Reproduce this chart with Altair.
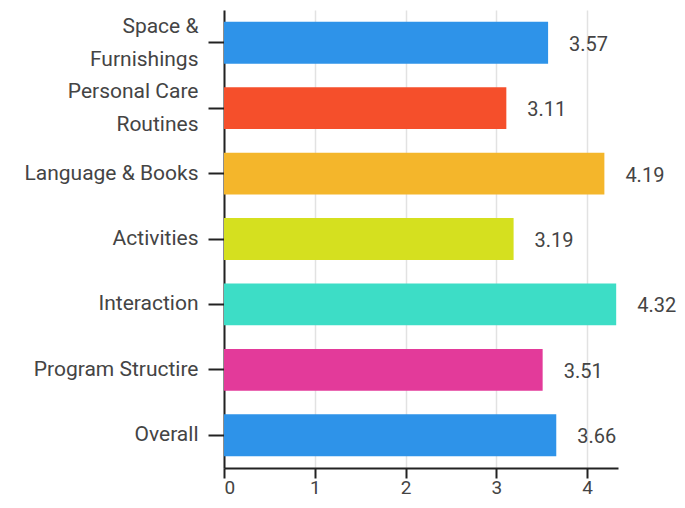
import altair as alt
import pandas as pd

categories = ["Space &|Furnishings", "Personal Care|Routines", "Language & Books",
              "Activities", "Interaction", "Program Structire", "Overall"]
scores = [3.57, 3.11, 4.19, 3.19, 4.32, 3.51, 3.66]
colors = ["#2E93E9", "#F54F2B", "#F4B62B", "#D5E01F", "#3DDDC6", "#E33A9A", "#2E93E9"]
x_ticks = [0, 1, 2, 3, 4]

df = pd.DataFrame({"category": categories, "score": scores, "color": colors,
                   "label": [f"{v:.2f}" for v in scores]})

FONT = "Roboto"
y_enc = alt.Y("category:N", sort=categories, title=None,
              scale=alt.Scale(paddingInner=0.36, paddingOuter=0.18),
              axis=alt.Axis(labelExpr="split(datum.label, '|')", labelFont=FONT,
                            labelFontSize=21, labelColor="#444", labelLineHeight=33,
                            labelOffset={"condition": {"test": "indexof(datum.value, '|') >= 0",
                                                       "value": -16},
                                         "value": 0},
                            labelPadding=10, tickSize=16, tickColor="#222", tickWidth=2,
                            domainColor="#222", domainWidth=2, grid=False, labelLimit=300))
x_enc = alt.X("score:Q", title=None,
              scale=alt.Scale(domain=[0, 4.34], nice=False),
              axis=alt.Axis(values=x_ticks, format="d", labelFont=FONT, labelFontSize=19,
                            labelColor="#444", labelPadding=0, tickSize=10, tickColor="#222",
                            tickWidth=2, domainColor="#222", domainWidth=2,
                            grid=True, gridColor="#e2e2e2", gridWidth=1.5))

bars = alt.Chart(df).mark_bar().encode(
    x=x_enc, y=y_enc, color=alt.Color("color:N", scale=None)
)
text = alt.Chart(df).mark_text(align="left", baseline="middle", dx=21, dy=2,
                               font=FONT, fontSize=20, color="#444").encode(
    x="score:Q", y=alt.Y("category:N", sort=categories), text="label:N"
)

chart = (bars + text).properties(
    width=394, height=458,
    autosize=alt.AutoSizeParams(type="none"),
    padding={"left": 216, "top": 2, "right": 59, "bottom": 32},
).configure_view(stroke=None)

chart.save("out.html", embed_options={"renderer": "svg", "actions": False})
